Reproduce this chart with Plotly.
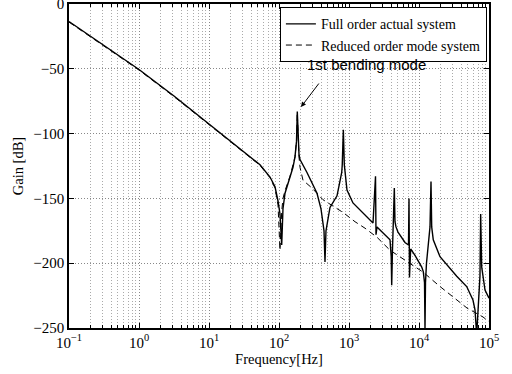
import plotly.graph_objects as go

# Full order actual system (frequency Hz, gain dB)
full_freq = [0.1, 0.316, 1.0, 3.16, 10, 14.4, 20, 27.7, 53.5, 74.4, 87.7, 96.8, 103.3,
             109.3, 114, 121.9, 143.6, 158.5, 169.2, 177.8, 182.5, 186.7, 193.1,
             199.5, 251, 349, 398, 439.5, 454, 469, 518, 535, 674, 787, 801, 830,
             857, 877, 936, 1140, 1585, 2203, 2392, 2431, 2512, 3060, 3853, 4009,
             4074, 4178, 4325, 4440, 4540, 4693, 5012, 6310, 7080, 7197, 7312,
             7600, 8770, 10940, 11510, 11990, 12180, 12380, 12790, 13580, 14360,
             14840, 15180, 15990, 19950, 34600, 48000, 59000, 63100, 66700, 70300,
             74300, 76000, 78700, 87700, 97700, 100000]
full_gain = [-13.5, -32, -50.5, -71, -92.5, -99.5, -105, -111, -124, -133.5, -141, -152, -162,
             -186, -158, -146, -133.5, -126, -118, -106, -83, -106, -116,
             -120, -130, -146, -158, -175, -199, -175, -160, -157, -148, -130, -124, -97,
             -124, -131, -143.5, -153.5, -161, -169, -133, -178, -172, -177, -182, -195,
             -217, -190, -170, -142, -168, -172, -176, -184, -186, -150, -211,
             -189, -194, -203, -206.5, -215, -252, -215, -200, -187, -172,
             -137, -172, -182, -195, -210, -218, -228.4, -236, -255, -228.4,
             -210, -162, -203, -220.7, -226, -227]

# Reduced order mode system
red_freq = [0.1, 0.316, 1.0, 3.16, 10, 14.4, 20, 27.7, 53.5, 74.4, 87.7, 96.8, 103.3,
            109.3, 114, 121.9, 143.6, 169.2, 177.8, 182.5, 186.7, 193.1, 199.5,
            220.3, 296, 425, 830, 1219, 1694, 2512, 3853, 11510, 19950, 30600,
            48500, 82000, 100000]
red_gain = [-14, -32.5, -51, -71.5, -93, -100, -105.5, -111.5, -124.5, -134, -142, -155, -190,
            -160, -150, -144, -133, -118, -106, -84, -106, -118, -126,
            -136, -142, -151, -161, -168, -173, -180, -190, -207, -218, -226,
            -234.6, -241.5, -245]

x_tickvals = [0.1, 1, 10, 100, 1000, 10000, 100000]
x_ticktext = ["10<sup>\u22121</sup>", "10<sup>0</sup>", "10<sup>1</sup>", "10<sup>2</sup>",
              "10<sup>3</sup>", "10<sup>4</sup>", "10<sup>5</sup>"]
y_tickvals = [0, -50, -100, -150, -200, -250]

minor_vals = [k * 10.0 ** e for e in range(-1, 5) for k in range(2, 10)]

serif = "Liberation Serif"
grid_dash = "1px,2px"

fig = go.Figure()
fig.add_trace(go.Scatter(x=full_freq, y=full_gain, mode="lines",
                         name="Full order actual system",
                         line=dict(color="black", width=1.4)))
fig.add_trace(go.Scatter(x=red_freq, y=red_gain, mode="lines",
                         name="Reduced order mode system",
                         line=dict(color="black", width=1, dash="6px,4px")))

fig.update_layout(
    width=512, height=374,
    margin=dict(l=69, r=23, t=4, b=46, autoexpand=False),
    paper_bgcolor="white", plot_bgcolor="white",
    font=dict(family=serif, size=15, color="black"),
    showlegend=True,
    legend=dict(x=0.995, y=0.99, xanchor="right", yanchor="top",
                bgcolor="white", bordercolor="black", borderwidth=1,
                font=dict(family=serif, size=14), tracegroupgap=0,
                itemwidth=30),
    xaxis=dict(type="log", range=[-1, 5], tickvals=x_tickvals, ticktext=x_ticktext,
               showline=True, linecolor="black", linewidth=1.5, mirror="allticks",
               ticks="inside", ticklen=5, tickcolor="black", automargin=False,
               tickfont=dict(family=serif, size=15), ticklabeloverflow="allow",
               showgrid=True, gridcolor="#888", griddash=grid_dash, gridwidth=1,
               minor=dict(tickvals=minor_vals, ticks="inside", ticklen=3,
                          tickcolor="black", showgrid=True, gridcolor="#aaa",
                          griddash=grid_dash, gridwidth=1),
               title=dict(text="Frequency[Hz]", font=dict(family=serif, size=14.5),
                          standoff=2),
               zeroline=False),
    yaxis=dict(range=[-250, 0], tickvals=y_tickvals,
               showline=True, linecolor="black", linewidth=1.5, mirror="allticks",
               ticks="inside", ticklen=5, tickcolor="black", automargin=False,
               tickfont=dict(family=serif, size=15), ticklabeloverflow="allow",
               showgrid=True, gridcolor="#888", griddash=grid_dash, gridwidth=1,
               title=dict(text="Gain [dB]", font=dict(family=serif, size=14.5),
                          standoff=6),
               zeroline=False),
)

fig.add_annotation(x=3.243, y=-47, xref="x", yref="y", text="1st bending mode",
                   showarrow=False, font=dict(family="Liberation Sans", size=15))
fig.add_annotation(x=2.314, y=-79.5, xref="x", yref="y", text="",
                   showarrow=True, ax=19, ay=-25, arrowhead=2, arrowsize=1,
                   arrowwidth=1, arrowcolor="black")

fig.write_html("out.html")
